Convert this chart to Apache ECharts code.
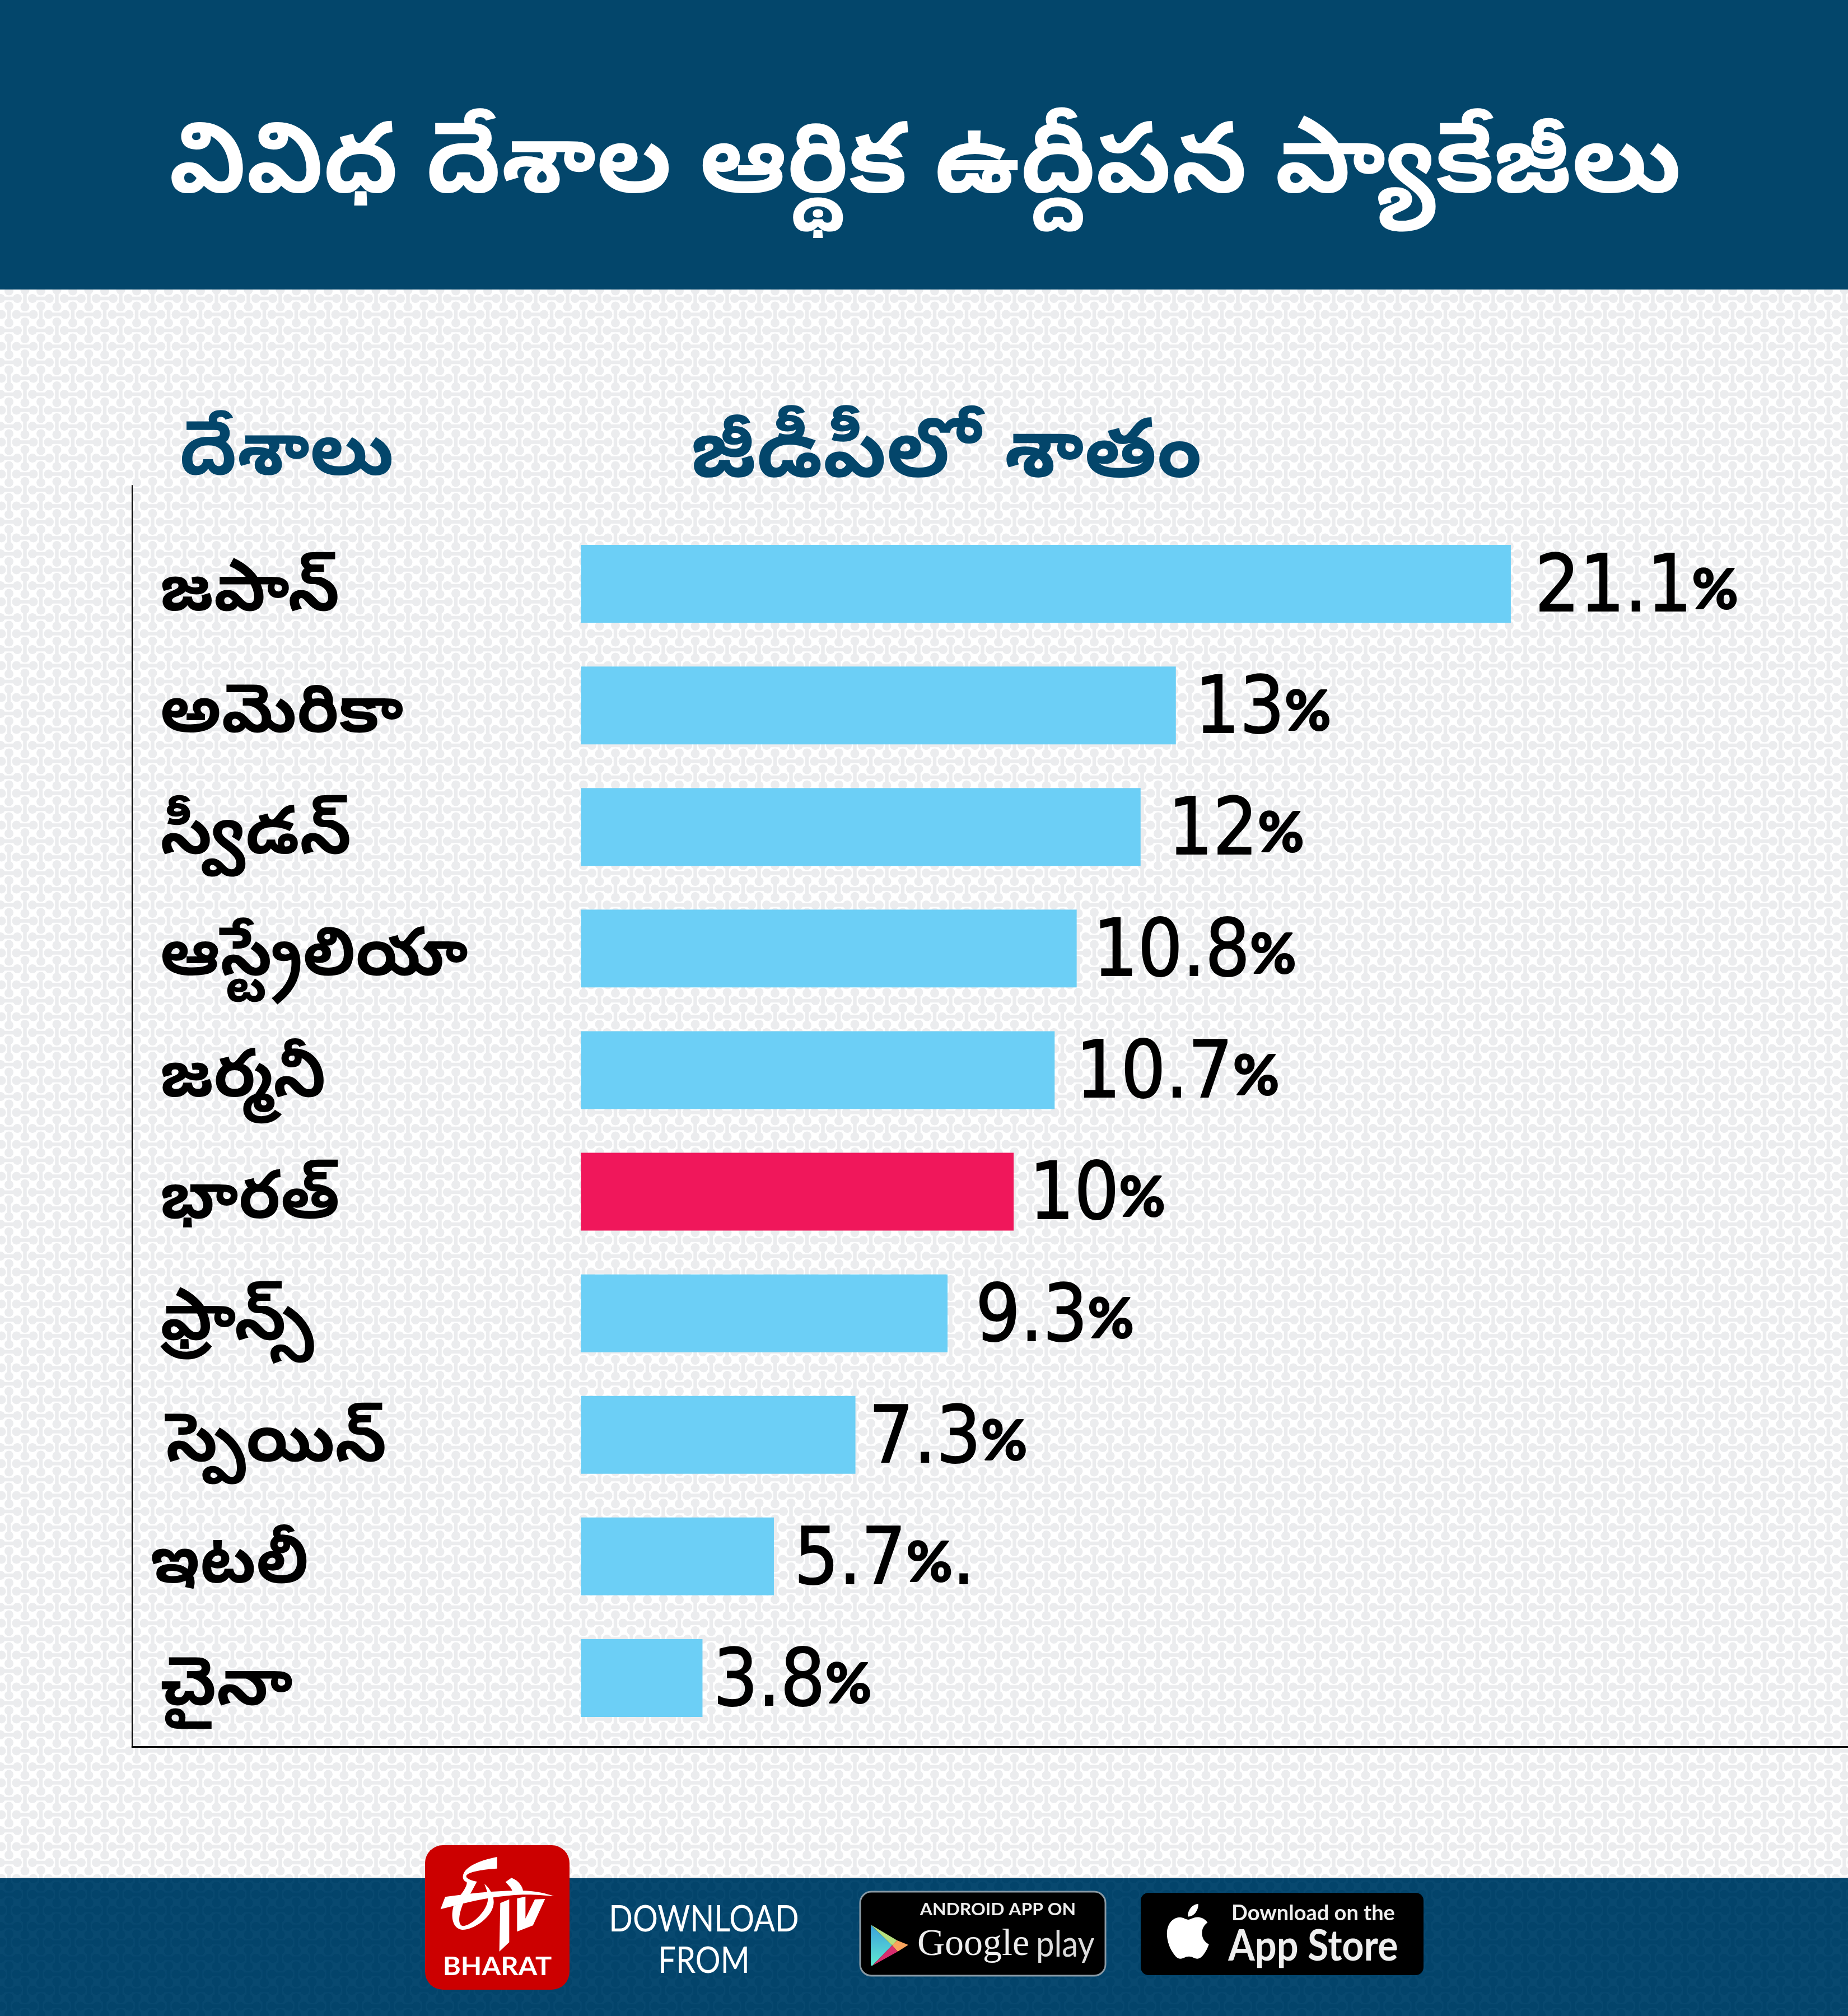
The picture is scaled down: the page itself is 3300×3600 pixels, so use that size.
<!DOCTYPE html>
<html><head><meta charset="utf-8">
<style>html,body{margin:0;padding:0;background:#fff}#c{width:3300px;height:3600px}</style>
<script src="https://cdn.jsdelivr.net/npm/echarts@6/dist/echarts.min.js"></script>
</head><body><div id="c"></div>
<script>
const titleText = 'వివిధ దేశాల ఆర్థిక ఉద్దీపన ప్యాకేజీలు';
const countryHead = 'దేశాలు';
const valueHead = 'జీడీపీలో శాతం';
const countries = ['జపాన్','అమెరికా','స్వీడన్','ఆస్ట్రేలియా','జర్మనీ','భారత్','ఫ్రాన్స్','స్పెయిన్','ఇటలీ','చైనా'];
const printedLabels = ['21.1%','13%','12%','10.8%','10.7%','10%','9.3%','7.3%','5.7%.','3.8%'];
// The reference's bars are not to scale with their printed labels; these are the lengths as drawn.
const drawnLengths = [21.1,13.5,12.7,11.25,10.75,9.82,8.32,6.23,4.38,2.76];
const highlighted = 'భారత్';

const labelGaps = [43,34,49,29,38,28,50,24,36,19];
const indentStyle = ['a','a','a','a','a','a','a','s','l','a'];

const NAVY='#03466B', BLUE='#6CCFF6', RED='#F0175B', TEL='"Noto Sans Telugu","Noto Sans",sans-serif', NUM='Lato,"Open Sans",sans-serif';
const DIGIT='"DejaVu Sans Condensed","DejaVu Sans",sans-serif';

function tile(bg,fg){
  const c=document.createElement('canvas');c.width=c.height=57;const g=c.getContext('2d');
  g.fillStyle=bg;g.fillRect(0,0,57,57);g.strokeStyle=fg;g.fillStyle=fg;g.lineCap='round';
  const db=(x,y,h)=>{for(const [dx,dy] of [[-57,0],[57,0],[0,-57],[0,57],[0,0]]){
    const X=x+dx,Y=y+dy,a=h?[X-15,Y]:[X,Y-15],b=h?[X+15,Y]:[X,Y+15];
    g.lineWidth=6.5;g.beginPath();g.moveTo(a[0],a[1]);g.lineTo(b[0],b[1]);g.stroke();
    for(const p of [a,b]){g.beginPath();g.arc(p[0],p[1],8,0,7);g.fill();}
  }};
  db(16,20,true);db(44.5,48.5,true);db(44.5,20,false);db(16,48.5,false);
  return c;
}
const chart=echarts.init(document.getElementById('c'),null,{renderer:'canvas',width:3300,height:3600});
const txt=(x,y,text,size,color,font,weight,align,sx)=>({type:'text',x,y,z:20,scaleX:sx||1,style:{text,fontSize:size,fill:color,fontFamily:font||NUM,fontWeight:weight||'normal',align:align||'center',verticalAlign:'middle'}});
const logoPaths=[
 'M110 358 L135 292 C250 275 400 258 550 258 C620 260 680 275 718 288 C650 282 600 278 550 280 C430 285 320 305 230 328 C190 338 150 348 110 358 Z',
 'M413 78 L413 140 C340 145 270 155 250 175 C240 190 265 203 305 210 L270 275 L215 285 C238 255 255 225 250 212 C225 205 225 175 240 155 C270 115 350 90 413 78 Z',
 'M180 340 C165 390 170 460 225 468 C280 472 395 400 395 320 C395 285 375 245 345 222 C355 250 370 280 362 318 C350 375 280 440 235 448 C200 450 205 390 232 325 Z',
 'M430 325 L478 305 L478 535 L425 585 Z',
 'M458 212 L490 190 C530 205 552 240 552 262 L495 265 C495 250 480 235 458 212 Z',
 'M520 300 L565 290 L565 408 L615 305 L670 303 L605 445 L520 478 Z'
];
const applePath='M18.71 19.5c-.83 1.24-1.71 2.45-3.05 2.47-1.34.03-1.77-.79-3.29-.79-1.53 0-2 .77-3.27.82-1.31.05-2.3-1.32-3.14-2.53C4.25 17 2.94 12.45 4.7 9.39c.87-1.52 2.43-2.48 4.12-2.51 1.28-.02 2.5.87 3.29.87.78 0 2.26-1.07 3.8-.91.65.03 2.47.26 3.64 1.98-.09.06-2.17 1.28-2.15 3.81.03 3.02 2.65 4.03 2.68 4.04-.03.07-.42 1.44-1.38 2.83M13 3.5c.73-.83 1.94-1.46 2.94-1.5.13 1.17-.34 2.35-1.04 3.19-.69.85-1.83 1.51-2.95 1.42-.15-1.15.41-2.35 1.05-3.11z';
logoPaths.forEach((d,i)=>echarts.graphic.registerShape('logo'+i,echarts.graphic.extendPath(d,{})));
echarts.graphic.registerShape('apple',echarts.graphic.extendPath(applePath,{}));
chart.setOption({
  animation:false,
  graphic:[
    {type:'rect',z:-10,shape:{x:0,y:0,width:3300,height:3600},style:{fill:{image:tile('#FFFFFF','#EBECEE'),repeat:'repeat'}}},
    {type:'rect',z:-9,shape:{x:0,y:0,width:3300,height:517},style:{fill:NAVY}},
    {type:'rect',z:-9,shape:{x:0,y:3354,width:3300,height:246},style:{fill:{image:tile('#084970','#03446B'),repeat:'repeat'}}},
    txt(1652,318,titleText,175,'#fff',TEL,'bold'),
    txt(512,828,countryHead,134,NAVY,TEL,'bold'),
    txt(1690,830,valueHead,147,NAVY,TEL,'bold'),
    {type:'rect',z:15,shape:{x:759,y:3295,width:258,height:258,r:32},style:{fill:'#CC0000'}},
    {type:'group',x:750,y:3290,scaleX:1/3,scaleY:1/3,children:logoPaths.map((d,i)=>({type:'logo'+i,z:16,style:{fill:'#fff'}}))},
    txt(888,3512,'BHARAT',46,'#fff',NUM,'bold','center',1.06),
    txt(1257,3428,'DOWNLOAD',66,'#fff',NUM,'normal','center',0.85),
    txt(1257,3502,'FROM',66,'#fff',NUM,'normal','center',0.85),
    {type:'rect',z:15,shape:{x:1536,y:3378,width:438,height:150,r:20},style:{fill:'#000',stroke:'#8a9aa5',lineWidth:3}},
    {type:'polygon',z:16,shape:{points:[[1555,3437],[1593,3474],[1558,3510],[1555,3510]]},style:{fill:new echarts.graphic.LinearGradient(0,0,0,1,[{offset:0,color:'#3BA0DC'},{offset:1,color:'#5FE8D0'}])}},
    {type:'polygon',z:16,shape:{points:[[1555,3437],[1602,3465],[1593,3474]]},style:{fill:'#B7E07E'}},
    {type:'polygon',z:16,shape:{points:[[1602,3465],[1622,3473],[1603,3485],[1593,3474]]},style:{fill:'#F9A45C'}},
    {type:'polygon',z:16,shape:{points:[[1593,3474],[1603,3485],[1558,3510]]},style:{fill:'#D92D6E'}},
    txt(1782,3410,'ANDROID APP ON',31,'#eee',NUM,'bold','center',1.03),
    txt(1638,3473,'Google',68,'#eee','"Liberation Serif",serif','normal','left'),
    txt(1850,3473,'play',66,'#ddd',NUM,'normal','left',0.88),
    {type:'rect',z:15,shape:{x:2037,y:3380,width:505,height:147,r:14},style:{fill:'#000'}},
    {type:'group',x:2066,y:3390,scaleX:4.62,scaleY:4.9,children:[{type:'apple',z:16,style:{fill:'#fff'}}]},
    txt(2345,3417,'Download on the',38,'#eee',NUM,'bold'),
    txt(2345,3476,'App Store',76,'#eee',NUM,'bold','center',0.9)
  ],
  grid:[
    {left:236,top:934,width:3064,height:2171},
    {left:236,top:867,width:3064,height:2252}
  ],
  xAxis:[
    {type:'value',gridIndex:0,min:-10.18,max:28.75,show:false,splitLine:{show:false}},
    {type:'value',gridIndex:1,min:0,max:1,axisLine:{show:true,lineStyle:{color:'#000',width:3}},axisTick:{show:false},axisLabel:{show:false},splitLine:{show:false}}
  ],
  yAxis:[
    {type:'category',gridIndex:0,inverse:true,data:countries,axisLine:{show:false},axisTick:{show:false},
     axisLabel:{align:'left',margin:-32,padding:[60,0,0,0],fontSize:120,fontWeight:'bold',color:'#000',fontFamily:TEL,
       formatter:(v,i)=>'{'+indentStyle[i]+'|'+v+'}',
       rich:{
         a:{fontSize:120,fontWeight:'bold',color:'#000',fontFamily:TEL,padding:[0,0,0,18]},
         s:{fontSize:120,fontWeight:'bold',color:'#000',fontFamily:TEL,padding:[0,0,0,28]},
         l:{fontSize:120,fontWeight:'bold',color:'#000',fontFamily:TEL,padding:[0,0,0,0]}
       }}},
    {type:'category',gridIndex:1,data:[''],axisLine:{show:true,lineStyle:{color:'#000',width:2}},axisTick:{show:false},axisLabel:{show:false}}
  ],
  series:[{type:'bar',xAxisIndex:0,yAxisIndex:0,barWidth:139,
    data:drawnLengths.map((v,i)=>({value:v,itemStyle:{color:countries[i]===highlighted?RED:BLUE},label:{distance:labelGaps[i]}})),
    label:{show:true,position:'right',offset:[0,12],color:'#000',
      formatter:p=>'{n|'+printedLabels[p.dataIndex].replace('%','}{p|%}{n|')+'}',
      rich:{n:{fontSize:140,fontFamily:DIGIT,color:'#000',textBorderColor:'#000',textBorderWidth:2},
            p:{fontSize:100,fontFamily:NUM,fontWeight:900,color:'#000',textBorderColor:'#000',textBorderWidth:2}}}}]
});
</script></body></html>
